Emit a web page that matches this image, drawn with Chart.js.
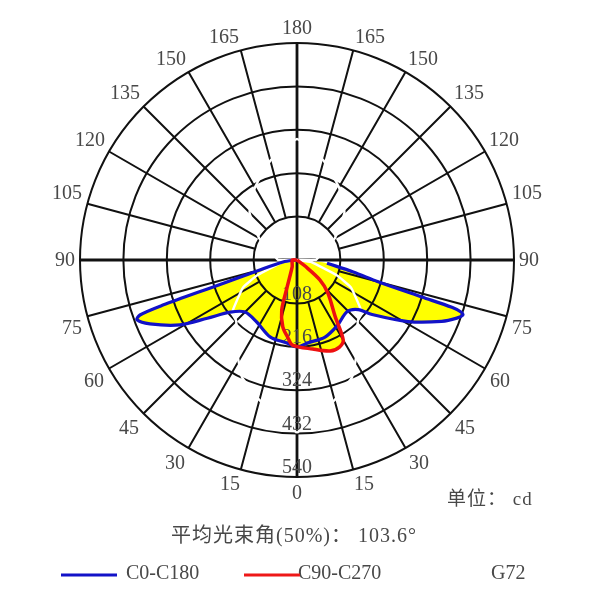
<!DOCTYPE html>
<html>
<head>
<meta charset="utf-8">
<title>G72</title>
<script src="https://cdn.jsdelivr.net/npm/chart.js@4"></script>
<style>
  html, body { margin: 0; padding: 0; background: #fff; }
  canvas { display: block; filter: blur(0.5px); }
</style>
</head>
<body>
<canvas id="polarChart" width="600" height="600"></canvas>
<script>
// Readings: angle from nadir (left side negative), intensity in cd
const blueAngles = [0, 84, 84, 78, 75, 73.5, 73, 72.4, 71.7, 70, 67, 61, 54, 51, 44, 32, 20, 7.5, 0,
  -7, -19, -33, -45, -52, -57, -61, -66.5, -69.5, -70.7, -71.4, -72.2, -74.6, -82, 0];
const blueValues = [0, 25, 75, 143, 209, 324, 403, 428, 435, 423, 391, 316, 231, 196, 179, 191, 204, 208, 216,
  208, 203, 184, 183, 211, 266, 333, 399, 425, 414, 352, 219, 103, 35, 0];

const redAngles = [0, 53, 49, 43, 34, 30, 26, 20, 10, -3, -7, -12, -17, -20, -35, -60, -90, 0];
const redValues = [0, 25, 76, 113, 170, 230, 241, 241, 225, 212, 193, 170, 130, 72, 21, 14, 12, 0];

// the thin white curve lying over the grid
const whiteAngles = [0, 15, 25, 32, 45, 51, 63, 69, 82, 0, 90, 105, 120, 135, 150, 165, 180,
  -165, -150, -135, -120, -105, -90, 0, -82, -69, -63, -51, -45, -32, -25, -15, 0];
const whiteValues = [430, 361, 323, 279, 214, 208, 151, 106, 35, 0, 47, 62, 109, 167, 209, 256, 301,
  256, 209, 167, 109, 62, 47, 0, 35, 106, 151, 208, 214, 279, 323, 361, 430];

const ringTicks = [108, 216, 324, 432, 540];
const angleTicks = [0, 15, 30, 45, 60, 75, 90, 105, 120, 135, 150, 165, 180];

const unitLabel = '单位： cd';
const beamLabel = '平均光束角(50%)： 103.6°';
const blueName = 'C0-C180';
const redName = 'C90-C270';
const planeName = 'G72';

const CX = 297, CY = 260, R = 217;
const k = 540 / R;  // cd per pixel
const serif = '"Liberation Serif", "Noto Sans CJK SC", serif';
const textColor = '#484848';

// where each angle label sits, offset from the centre in pixels
const labelSpots = {
  0: [0, 233], 15: [67, 224], 30: [122, 203], 45: [168, 168], 60: [203, 121], 75: [225, 68],
  90: [232, 0], 105: [230, -67], 120: [207, -120], 135: [172, -167], 150: [126, -201], 165: [73, -223],
  180: [0, -232]
};

function toXY(angles, values) {
  return angles.map((a, i) => ({
    x: values[i] * Math.sin(a * Math.PI / 180),
    y: -values[i] * Math.cos(a * Math.PI / 180)
  }));
}

function put(ctx, text, x, y, size) {
  ctx.font = size + 'px ' + serif;
  ctx.fillText(text, x, y);
}

const gridPlugin = {
  id: 'polarGrid',
  // grid goes over the yellow but under the curves
  beforeDatasetDraw(chart, args) {
    if (chart.data.datasets[args.index].label !== 'white') return;
    const ctx = chart.ctx;
    const sx = chart.scales.x, sy = chart.scales.y;
    const cx = sx.getPixelForValue(0), cy = sy.getPixelForValue(0);
    const rad = v => sx.getPixelForValue(v) - cx;
    const inner = rad(ringTicks[0]), outer = rad(ringTicks[ringTicks.length - 1]);

    ctx.save();
    ctx.strokeStyle = '#111';
    ctx.lineWidth = 2;
    ringTicks.forEach(v => {
      ctx.beginPath();
      ctx.arc(cx, cy, rad(v), 0, Math.PI * 2);
      ctx.stroke();
    });
    angleTicks.forEach(a => {
      if (a === 0 || a === 90 || a === 180) return;
      const s = Math.sin(a * Math.PI / 180), c = Math.cos(a * Math.PI / 180);
      ctx.beginPath();
      ctx.moveTo(cx - s * inner, cy + c * inner);
      ctx.lineTo(cx - s * outer, cy + c * outer);
      ctx.moveTo(cx + s * inner, cy + c * inner);
      ctx.lineTo(cx + s * outer, cy + c * outer);
      ctx.stroke();
    });
    ctx.lineWidth = 2.8;
    ctx.beginPath();
    ctx.moveTo(cx, cy - outer);
    ctx.lineTo(cx, cy + outer);
    ctx.moveTo(cx - outer, cy);
    ctx.lineTo(cx + outer, cy);
    ctx.stroke();
    ctx.restore();
  },
  // tick labels sit on top of the white curve
  afterDatasetDraw(chart, args) {
    if (chart.data.datasets[args.index].label !== 'white') return;
    const ctx = chart.ctx;
    const sx = chart.scales.x, sy = chart.scales.y;
    const cx = sx.getPixelForValue(0), cy = sy.getPixelForValue(0);
    const rad = v => sx.getPixelForValue(v) - cx;
    ctx.save();
    ctx.fillStyle = textColor;
    ctx.textAlign = 'center';
    ctx.textBaseline = 'middle';
    ringTicks.forEach(v => put(ctx, String(v), cx, cy + rad(v) - 9, 20));
    angleTicks.forEach(a => {
      const [dx, dy] = labelSpots[a];
      put(ctx, String(a), cx + dx, cy + dy + 1, 20);
      if (dx !== 0) put(ctx, String(a), cx - dx, cy + dy + 1, 20);
    });
    ctx.restore();
  },
  afterDraw(chart) {
    const ctx = chart.ctx;
    ctx.save();
    ctx.fillStyle = textColor;
    ctx.textBaseline = 'middle';
    ctx.textAlign = 'left';
    ctx.letterSpacing = '1px';
    put(ctx, unitLabel, 447, 500, 19);
    put(ctx, beamLabel, 171, 537, 20);
    ctx.letterSpacing = '0px';
    put(ctx, blueName, 126, 574, 20);
    put(ctx, redName, 298, 574, 20);
    put(ctx, planeName, 491, 574, 20);
    ctx.lineWidth = 3;
    ctx.strokeStyle = '#1212c8';
    ctx.beginPath();
    ctx.moveTo(61, 575);
    ctx.lineTo(117, 575);
    ctx.stroke();
    ctx.strokeStyle = '#ee1818';
    ctx.beginPath();
    ctx.moveTo(244, 575);
    ctx.lineTo(300, 575);
    ctx.stroke();
    ctx.restore();
  }
};

const bluePoints = toXY(blueAngles, blueValues);
const redPoints = toXY(redAngles, redValues);
const whitePoints = toXY(whiteAngles, whiteValues);

new Chart(document.getElementById('polarChart'), {
  type: 'scatter',
  data: {
    datasets: [
      { label: 'red', data: redPoints, borderColor: '#ee1010', borderWidth: 3.5, tension: 0.3, order: 1 },
      { label: 'blue', data: bluePoints.slice(2), borderColor: '#1212c8', borderWidth: 3.2, tension: 0.3, order: 2 },
      { label: 'white', data: whitePoints, borderColor: '#fff', borderWidth: 2.4, tension: 0.1, order: 3 },
      { label: 'fillRed', data: redPoints, borderWidth: 0, borderColor: 'rgba(0,0,0,0)', backgroundColor: '#ffff00', fill: 'shape', tension: 0.3, order: 4 },
      { label: 'fillBlue', data: bluePoints, borderWidth: 0, borderColor: 'rgba(0,0,0,0)', backgroundColor: '#ffff00', fill: 'shape', tension: 0.3, order: 5 }
    ]
  },
  options: {
    responsive: false,
    animation: false,
    showLine: true,
    elements: { point: { radius: 0, hoverRadius: 0 } },
    layout: { padding: 0 },
    scales: {
      x: { display: false, min: -CX * k, max: (600 - CX) * k },
      y: { display: false, min: -(600 - CY) * k, max: CY * k }
    },
    plugins: { legend: { display: false }, tooltip: { enabled: false } }
  },
  plugins: [gridPlugin]
});
</script>
</body>
</html>
